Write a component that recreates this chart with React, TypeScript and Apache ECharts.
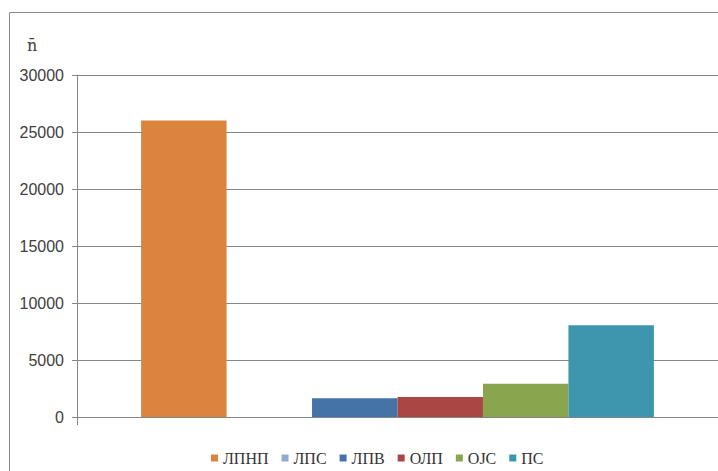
import React, { useEffect, useRef } from "react";
import * as echarts from "echarts";

const categories = [""];
const seriesNames = ["ЛПНП", "ЛПС", "ЛПВ", "ОЛП", "ОЈС", "ПС"];
const seriesValues = [26000, 0, 1650, 1750, 2920, 8050];
const seriesColors = ["#DB843D", "#93A9CF", "#4572A7", "#AA4643", "#89A54E", "#3D96AE"];
const yTicks = { min: 0, max: 30000, interval: 5000 };
const axisTitle = "n̄";

export default function App() {
  const ref = useRef<HTMLDivElement>(null);
  useEffect(() => {
    document.body.style.margin = "0";
    if (!ref.current) return;
    const chart = echarts.init(ref.current, undefined, { renderer: "svg" });
    const grey = "#868686";
    chart.setOption({
      animation: false,
      backgroundColor: "#ffffff",
      grid: { left: 77, top: 75, height: 342, width: 645, containLabel: false },
      xAxis: {
        type: "category",
        data: categories,
        axisLine: { show: true, lineStyle: { color: grey, width: 1 } },
        axisTick: { show: true, length: 8, lineStyle: { color: grey } },
        axisLabel: { show: false },
        splitLine: { show: false },
      },
      yAxis: {
        type: "value",
        min: yTicks.min,
        max: yTicks.max,
        interval: yTicks.interval,
        axisLine: { show: true, lineStyle: { color: grey, width: 1 } },
        axisTick: { show: true, length: 5, lineStyle: { color: grey } },
        axisLabel: {
          color: "#404040",
          fontSize: 16,
          fontFamily: "Liberation Sans",
          margin: 13,
          formatter: (v: number) => String(v),
        },
        splitLine: { show: true, lineStyle: { color: grey, width: 1 } },
      },
      legend: {
        data: seriesNames,
        left: 206,
        top: 445,
        icon: "rect",
        itemWidth: 7,
        itemHeight: 7,
        itemGap: 13,
        textStyle: { fontFamily: "'Liberation Serif', 'Times New Roman', serif", fontSize: 16, color: "#333333" },
      },
      graphic: [
        {
          type: "rect",
          shape: { x: 9.5, y: 12.5, width: 900, height: 600 },
          style: { fill: "none", stroke: "#8a8a8a", lineWidth: 1 },
          silent: true,
        },
        {
          type: "text",
          x: 27,
          y: 37,
          style: {
            text: axisTitle,
            fontFamily: "DejaVu Serif",
            fontSize: 16,
            fill: "#404040",
          },
          silent: true,
        },
      ],
      series: seriesNames.map((name, i) => ({
        name,
        type: "bar",
        data: [seriesValues[i]],
        barGap: "0%",
        barCategoryGap: "20%",
        itemStyle: { color: seriesColors[i] },
      })),
    });
    return () => chart.dispose();
  }, []);
  return <div ref={ref} style={{ width: 718, height: 471 }} />;
}
